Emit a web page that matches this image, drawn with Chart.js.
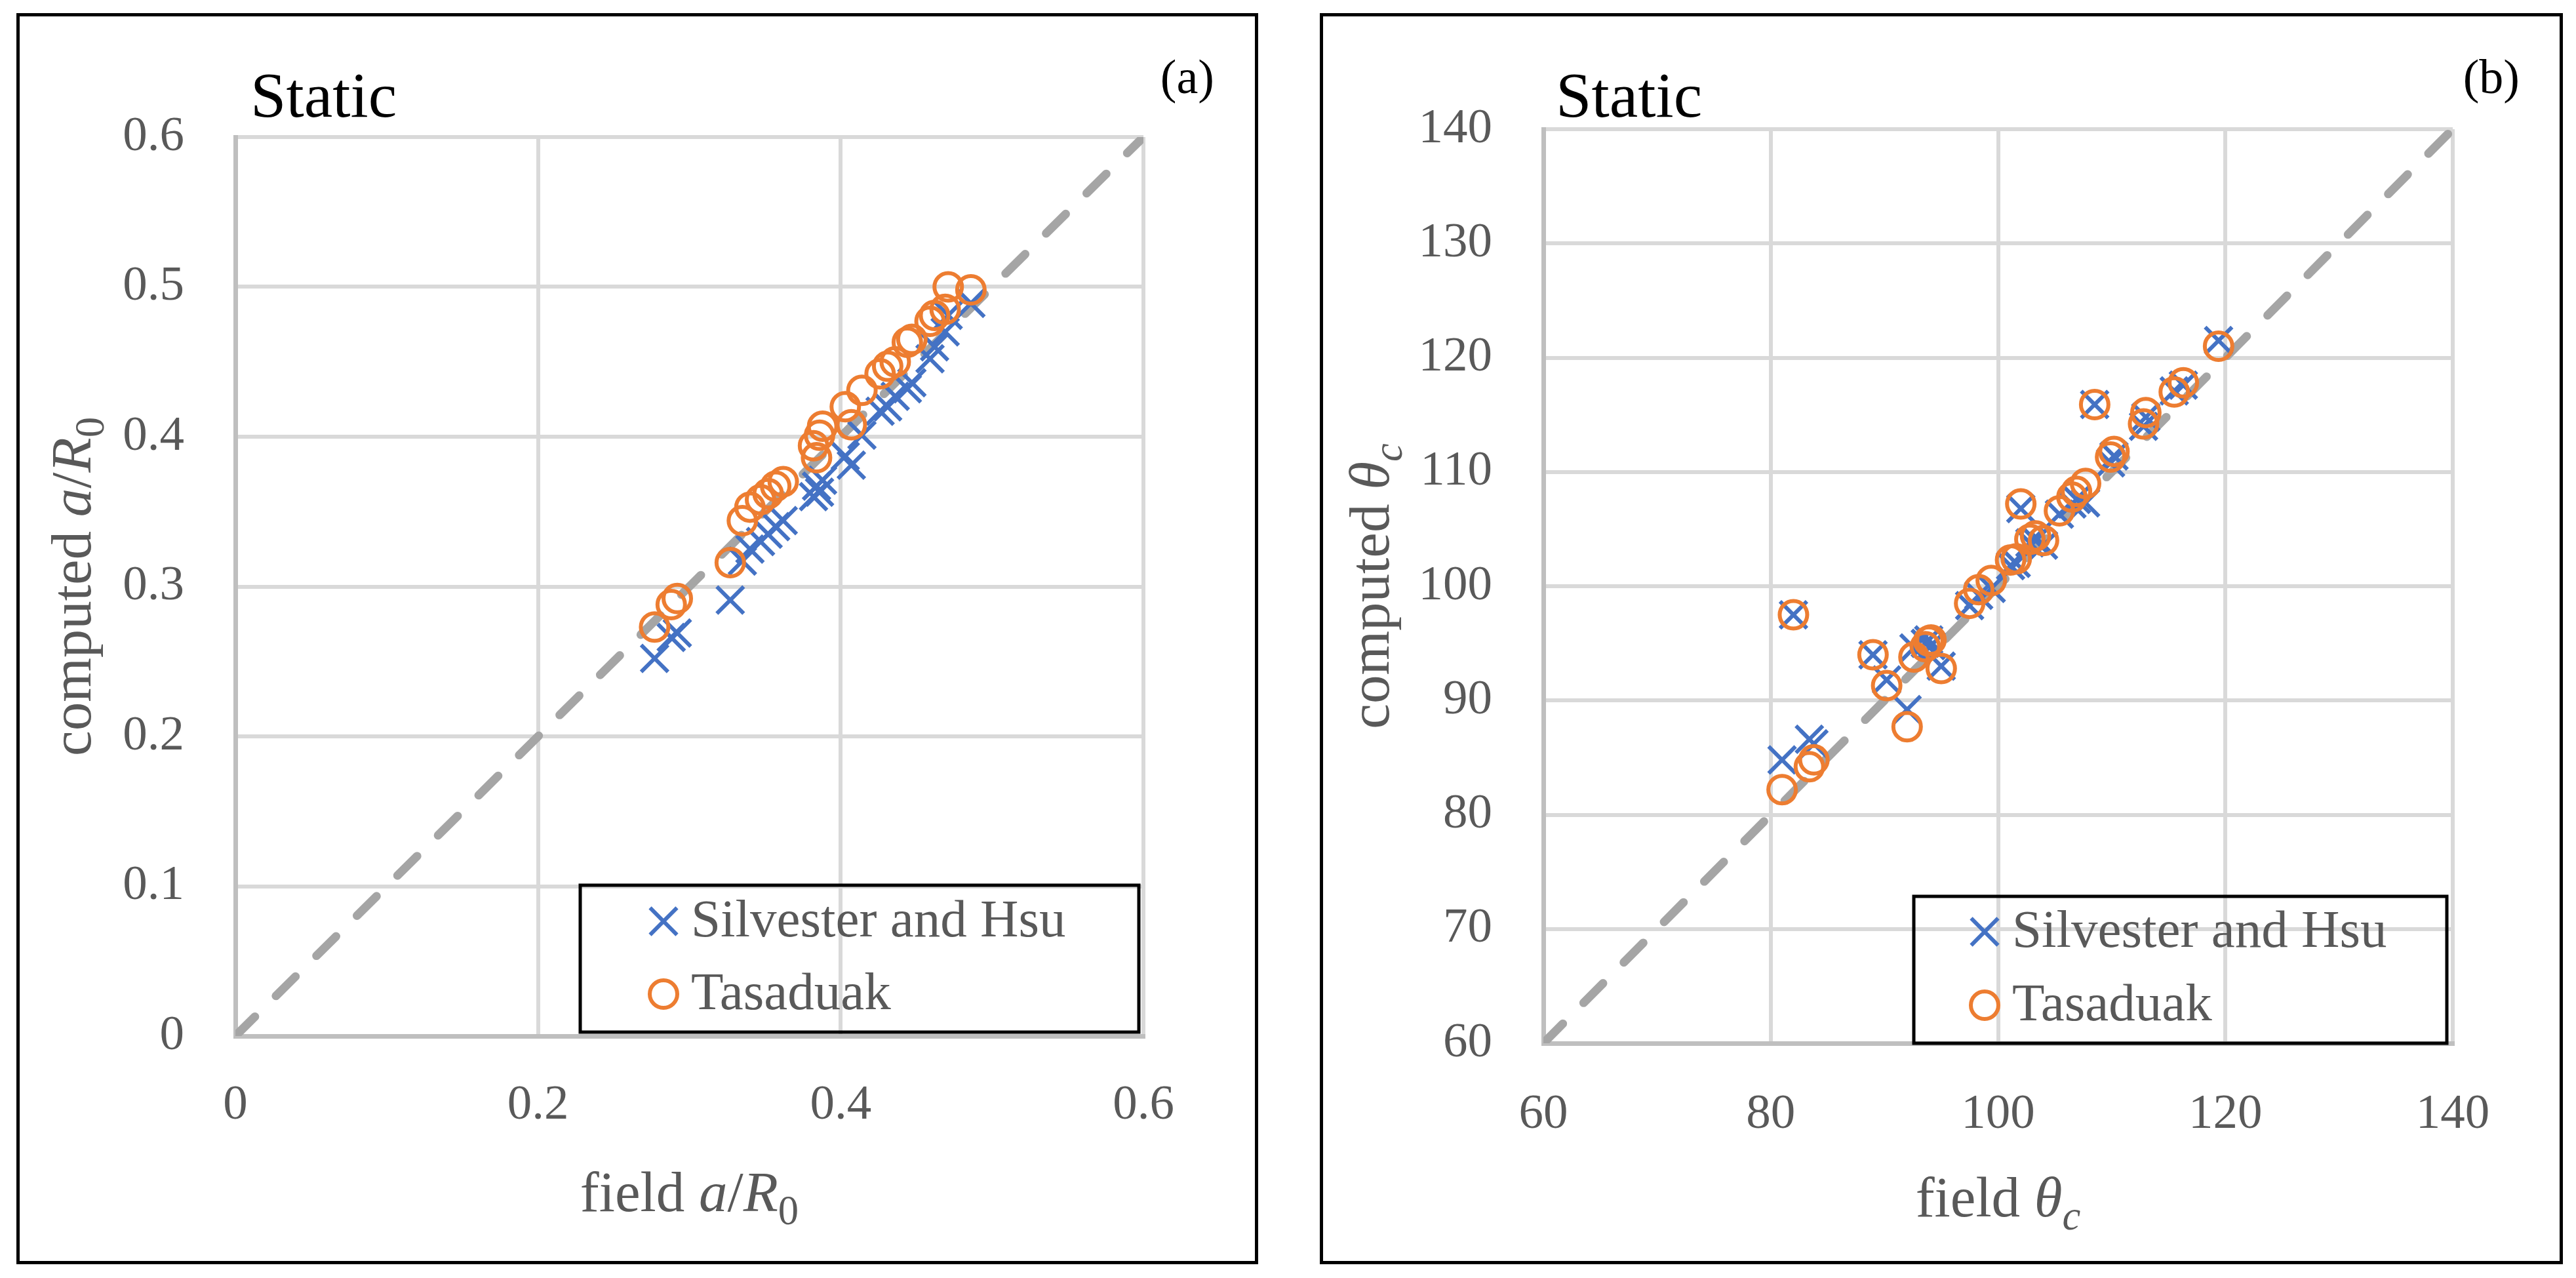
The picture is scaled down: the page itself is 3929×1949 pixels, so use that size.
<!DOCTYPE html>
<html><head><meta charset="utf-8">
<script src="https://cdn.jsdelivr.net/npm/chart.js@4.4.1/dist/chart.umd.min.js"></script>
<style>
html,body{margin:0;padding:0;background:#fff;}
body{width:3929px;height:1949px;position:relative;overflow:hidden;}
.panel{position:absolute;top:20px;height:1898px;border:5px solid #000;background:#fff;}
#pa{left:25px;width:1884px;}
#pb{left:2013px;width:1886px;}
canvas{display:block;}
</style></head><body>
<div class="panel" id="pa"><canvas id="ca"></canvas></div>
<div class="panel" id="pb"><canvas id="cb"></canvas></div>
<script>
// ---------- data ----------
const seriesNames = ['Silvester and Hsu', 'Tasaduak'];

// panel (a): field a/R0 vs computed a/R0
const fieldA      = [0.277,0.288,0.292,0.327,0.335,0.340,0.347,0.352,0.357,0.362,0.382,0.384,0.386,0.388,0.403,0.407,0.414,0.426,0.431,0.436,0.444,0.447,0.459,0.462,0.469,0.471,0.486];
const silvesterA  = [0.252,0.266,0.269,0.291,0.317,0.325,0.330,0.335,0.340,0.344,0.360,0.367,0.363,0.371,0.387,0.381,0.401,0.417,0.420,0.427,0.432,0.436,0.452,0.460,0.470,0.481,0.489];
const tasaduakA   = [0.273,0.288,0.292,0.316,0.344,0.353,0.358,0.362,0.367,0.370,0.394,0.386,0.401,0.407,0.420,0.408,0.431,0.442,0.447,0.450,0.463,0.465,0.477,0.481,0.485,0.500,0.498];

// panel (b): field theta_c vs computed theta_c
const fieldTheta     = [81.0,82.0,83.4,83.8,89.0,90.2,92.0,92.6,93.6,93.9,94.1,95.0,97.5,98.3,99.4,101.1,101.6,102.0,102.8,103.3,104.0,105.4,106.5,106.9,107.7,108.5,109.9,110.2,112.8,113.0,115.5,116.3,119.4];
const silvesterTheta = [84.8,97.5,86.6,86.2,94.0,91.8,89.2,94.6,95.0,95.3,94.8,93.0,98.3,99.2,99.8,101.8,102.0,106.8,103.8,104.0,103.6,106.3,107.2,107.6,107.3,115.9,110.8,111.4,114.0,114.8,117.1,117.6,121.5];
const tasaduakTheta  = [82.2,97.5,84.2,84.8,94.0,91.3,87.7,93.8,94.7,95.2,95.3,92.8,98.5,99.7,100.5,102.3,102.4,107.2,104.1,104.4,104.0,106.6,107.8,108.3,109.0,115.9,111.3,111.8,114.2,115.2,117.0,117.8,121.0];

// tick labels
const ticksAX = [0, 0.2, 0.4, 0.6];
const ticksAY = [0, 0.1, 0.2, 0.3, 0.4, 0.5, 0.6];
const ticksBX = [60, 80, 100, 120, 140];
const ticksBY = [60, 70, 80, 90, 100, 110, 120, 130, 140];

// texts
const titleXA = [{t:'field '},{t:'a',it:true},{t:'/'},{t:'R',it:true},{t:'0',sub:true}];
const titleYA = [{t:'computed '},{t:'a',it:true},{t:'/'},{t:'R',it:true},{t:'0',sub:true}];
const titleXB = [{t:'field '},{t:'θ',it:true},{t:'c',it:true,sub:true}];
const titleYB = [{t:'computed '},{t:'θ',it:true},{t:'c',it:true,sub:true}];
const caseLabel = 'Static';
const panelLabels = ['(a)', '(b)'];

// ---------- styling ----------
const BLUE = '#4472C4', ORANGE = '#ED7D31', DIAG = '#A5A5A5';
const GRID = '#D9D9D9', AXIS = '#BFBFBF', TXT = '#595959';
const FONT = '"Liberation Serif", "Times New Roman", serif';

function pairs(xs, ys){ return xs.map((x,i)=>({x:x, y:ys[i]})); }

function drawRich(ctx, parts, x, y, size, color, rotate){
  ctx.save();
  ctx.translate(x, y);
  if (rotate) ctx.rotate(-Math.PI/2);
  ctx.fillStyle = color;
  ctx.textBaseline = 'alphabetic';
  ctx.textAlign = 'left';
  const fonts = parts.map(p => (p.it ? 'italic ' : '') + (p.sub ? size*0.72 : size) + 'px ' + FONT);
  const widths = parts.map((p,i) => { ctx.font = fonts[i]; return ctx.measureText(p.t).width; });
  const total = widths.reduce((a,b)=>a+b, 0);
  let cx = -total/2;
  parts.forEach((p,i) => {
    ctx.font = fonts[i];
    ctx.fillText(p.t, cx, p.sub ? size*0.23 : 0);
    cx += widths[i];
  });
  ctx.restore();
}

function drawMarker(ctx, style, x, y){
  ctx.save();
  ctx.lineWidth = 6;
  if (style === 'crossRot'){
    const r = 29*Math.SQRT1_2;
    ctx.strokeStyle = BLUE;
    ctx.beginPath();
    ctx.moveTo(x-r, y-r); ctx.lineTo(x+r, y+r);
    ctx.moveTo(x+r, y-r); ctx.lineTo(x-r, y+r);
    ctx.stroke();
  } else {
    ctx.strokeStyle = ORANGE;
    ctx.beginPath();
    ctx.arc(x, y, 21, 0, Math.PI*2);
    ctx.stroke();
  }
  ctx.restore();
}

const decorPlugin = {
  id: 'decor',
  afterDraw(chart, args, o){
    const ctx = chart.ctx;
    ctx.save();
    // case label
    ctx.fillStyle = '#000';
    ctx.font = '98px ' + FONT;
    ctx.textBaseline = 'alphabetic';
    ctx.textAlign = 'left';
    ctx.fillText(caseLabel, o.staticX, 153);
    // panel label
    ctx.font = '74px ' + FONT;
    ctx.textAlign = 'right';
    ctx.fillText(o.panel, o.panelX, 117);
    ctx.restore();
    // axis titles
    const ca = chart.chartArea;
    drawRich(ctx, o.xTitle, (ca.left+ca.right)/2, o.xTitleY, 87, TXT, false);
    drawRich(ctx, o.yTitle, o.yTitleX, (ca.top+ca.bottom)/2, 87, TXT, true);
    // legend
    const L = o.legend;
    ctx.save();
    ctx.strokeStyle = '#000';
    ctx.lineWidth = 5;
    ctx.strokeRect(L.x, L.y, L.w, L.h);
    ctx.fillStyle = TXT;
    ctx.font = '81px ' + FONT;
    ctx.textAlign = 'left';
    ctx.textBaseline = 'alphabetic';
    drawMarker(ctx, 'crossRot', L.mx, L.r1);
    ctx.fillText(seriesNames[0], L.tx, L.r1 + 23);
    drawMarker(ctx, 'circle', L.mx, L.r2);
    ctx.fillText(seriesNames[1], L.tx, L.r2 + 23);
    ctx.restore();
  }
};

function axis(ticks, isX, size, pad){
  const fmt = v => String(+v.toFixed(2));
  const a = {
    type: 'linear',
    min: ticks[0],
    max: ticks[ticks.length-1],
    afterBuildTicks: s => { s.ticks = ticks.map(v => ({value: v})); },
    ticks: { padding: pad, color: TXT, font: {family: FONT, size: 75}, callback: fmt, maxRotation: 0, autoSkip: false },
    grid: { color: GRID, lineWidth: 6, drawTicks: false },
    border: { color: AXIS, width: 7 }
  };
  if (isX) a.afterFit = s => { s.height = size; };
  else a.afterFit = s => { s.width = size; };
  return a;
}

function buildChart(id, c){
  const diag = [{x: c.tx[0], y: c.ty[0]}, {x: c.tx[c.tx.length-1], y: c.ty[c.ty.length-1]}];
  return new Chart(document.getElementById(id), {
    type: 'scatter',
    data: { datasets: [
      { label: seriesNames[1], data: c.tas, order: 0,
        pointStyle: 'circle', radius: 21, pointRadius: 21, hoverRadius: 21, pointHoverRadius: 21,
        borderWidth: 6, pointBorderWidth: 6, borderColor: ORANGE, pointBorderColor: ORANGE,
        backgroundColor: 'rgba(0,0,0,0)', pointBackgroundColor: 'rgba(0,0,0,0)' },
      { label: seriesNames[0], data: c.silv, order: 1,
        pointStyle: 'crossRot', radius: 29, pointRadius: 29, hoverRadius: 29, pointHoverRadius: 29,
        borderWidth: 6, pointBorderWidth: 6, borderColor: BLUE, pointBorderColor: BLUE,
        backgroundColor: BLUE, pointBackgroundColor: BLUE },
      { label: '1:1', type: 'line', data: diag, order: 2, showLine: true,
        borderColor: DIAG, borderWidth: 13, borderDash: [42, 45], borderCapStyle: 'round',
        pointRadius: 0, pointHoverRadius: 0, fill: false, tension: 0, clip: 0 }
    ]},
    options: {
      responsive: true, maintainAspectRatio: false, animation: false, devicePixelRatio: 1, events: [],
      layout: { padding: { top: c.padTop, right: c.padRight, left: 0, bottom: 0 } },
      plugins: { legend: { display: false }, tooltip: { enabled: false }, decor: c.decor },
      scales: { x: axis(c.tx, true, c.xH, c.xPad), y: axis(c.ty, false, c.yW, 78) }
    },
    plugins: [decorPlugin]
  });
}

buildChart('ca', {
  tas: pairs(fieldA, tasaduakA), silv: pairs(fieldA, silvesterA),
  tx: ticksAX, ty: ticksAY,
  padTop: 184, padRight: 170, xH: 343, yW: 329, xPad: 61,
  decor: { panel: panelLabels[0], panelX: 1822, staticX: 352,
    xTitle: titleXA, yTitle: titleYA, xTitleY: 1822, yTitleX: 108,
    legend: { x: 855, y: 1325, w: 852, h: 224, mx: 982, r1: 1380, r2: 1491, tx: 1024 } }
});
buildChart('cb', {
  tas: pairs(fieldTheta, tasaduakTheta), silv: pairs(fieldTheta, silvesterTheta),
  tx: ticksBX, ty: ticksBY,
  padTop: 172, padRight: 163, xH: 332, yW: 336, xPad: 64,
  decor: { panel: panelLabels[1], panelX: 1825, staticX: 355,
    xTitle: titleXB, yTitle: titleYB, xTitleY: 1830, yTitleX: 100,
    legend: { x: 901, y: 1342, w: 813, h: 224, mx: 1009, r1: 1396, r2: 1508, tx: 1051 } }
});
</script>
</body></html>
